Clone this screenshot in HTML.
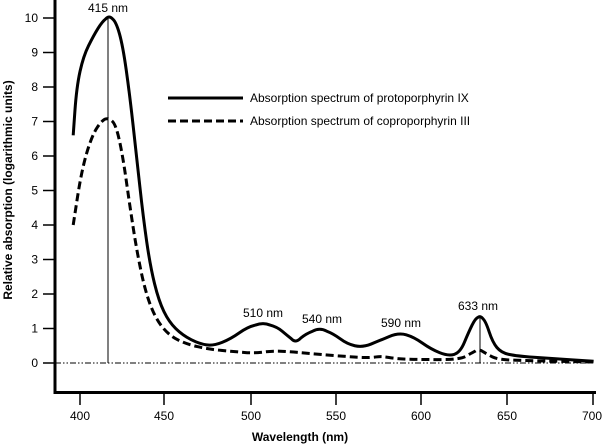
<!DOCTYPE html>
<html><head><meta charset="utf-8"><style>
html,body{margin:0;padding:0;background:#fff;}
svg{display:block;font-family:"Liberation Sans",Arial,sans-serif;}
</style></head><body>
<svg width="604" height="444" viewBox="0 0 604 444">
<g stroke="#000" fill="none">
<line x1="55" y1="0" x2="55" y2="394" stroke-width="3"/>
<line x1="54" y1="392.5" x2="596" y2="392.5" stroke-width="3"/>
<g stroke-width="1.5">
<line x1="43" y1="18" x2="55" y2="18"/><line x1="43" y1="52.5" x2="55" y2="52.5"/>
<line x1="43" y1="87" x2="55" y2="87"/><line x1="43" y1="121.5" x2="55" y2="121.5"/>
<line x1="43" y1="156" x2="55" y2="156"/><line x1="43" y1="190.5" x2="55" y2="190.5"/>
<line x1="43" y1="225" x2="55" y2="225"/><line x1="43" y1="259.5" x2="55" y2="259.5"/>
<line x1="43" y1="294" x2="55" y2="294"/><line x1="43" y1="328.5" x2="55" y2="328.5"/>
<line x1="43" y1="363" x2="55" y2="363"/>
<line x1="80" y1="392" x2="80" y2="405"/><line x1="164" y1="392" x2="164" y2="405"/>
<line x1="251" y1="392" x2="251" y2="405"/><line x1="336" y1="392" x2="336" y2="405"/>
<line x1="421" y1="392" x2="421" y2="405"/><line x1="507" y1="392" x2="507" y2="405"/>
<line x1="593" y1="392" x2="593" y2="405"/>
</g>
<line x1="55" y1="363" x2="594" y2="363" stroke-width="1" stroke-dasharray="6,2,1.5,2,1.5,2"/>
<line x1="108" y1="17" x2="108" y2="363" stroke-width="1"/>
<line x1="480" y1="316" x2="480" y2="363" stroke-width="1"/>
<path stroke-width="3" stroke-linejoin="round" d="M73.2,135.3 L74.9,111.15 Q76.6,87 80,71.5 Q83.4,56 88.55,45.65 Q93.7,35.3 98,28.4 Q102.3,21.5 105.7,18.9 Q109.1,15 112.55,18.9 Q116,21.5 119.4,33.55 Q122.8,45.6 126.2,69.75 Q129.6,93.9 133.05,124.95 Q136.5,156 139.9,187 Q143.3,218 146.75,242 Q150.2,266 154.5,283.5 Q158.8,301 163.9,311.5 Q169,322 175.85,328.7 Q182.7,335.4 191.25,339.7 Q199.8,344 206.65,344.9 Q213.5,345.8 222.1,342.35 Q230.7,338.9 239.25,332.85 Q247.8,326.8 255.5,325.05 Q263.2,322.3 270.05,325.05 Q276.9,326.8 282.05,331.1 Q287.2,335.4 291.45,338.85 Q295.7,343.5 300.85,338 Q306,333.7 312.85,331.1 Q319.7,327.5 326.55,331.1 Q333.4,333.7 340.25,338.85 Q347.1,344 354.8,345.75 Q362.5,347.5 371.05,344.05 Q379.6,340.6 389.05,336.6 Q398.5,332.6 406.2,334.85 Q413.9,337.1 422.45,343.15 Q431,349.2 439.55,352.65 Q448.1,356.1 454.1,354.4 Q460.1,352.7 464.4,342.35 Q468.7,332 472.1,325.1 Q475.5,318.2 478.05,317.3 Q480.6,315.4 483.2,319 Q485.8,321.6 489.2,331.95 Q492.6,342.3 496.9,347.5 Q501.2,352.7 508.9,354.4 Q516.6,356.1 533.7,357.3 Q550.8,358.5 572.2,359.9 L593.6,361.3"/>
<path stroke-width="3" stroke-dasharray="8,4" stroke-linejoin="round" d="M73.2,225 L77.45,197.4 Q81.7,169.8 86.85,152.55 Q92,135.3 97.15,127.55 Q102.3,119.8 105.7,118.9 Q109.1,118 112.55,121.5 Q116,125 119.4,140.5 Q122.8,156 126.2,180.15 Q129.6,204.3 133.05,226.75 Q136.5,249.2 140.75,269.85 Q145,290.5 150.15,304.35 Q155.3,318.2 162.15,326.8 Q169,335.4 177.55,339.7 Q186.1,344 197.25,346.6 Q208.4,349.2 221.25,350.4 Q234.1,351.6 244.35,352.45 Q254.6,353.3 263.15,352.1 Q271.7,350.9 280.3,351.25 Q288.9,351.6 304.3,353 Q319.7,354.4 336.8,355.75 Q353.9,357.1 362.45,357.45 Q371,357.8 376.15,356.95 Q381.3,356.1 389,357.5 Q396.7,358.9 409.55,359.25 Q422.4,359.6 441.25,359.6 Q460.1,359.6 466.1,356.15 Q472.1,352.7 475.55,350.95 Q479,348.5 483.25,351.8 Q487.5,354.4 492.65,357 Q497.8,359.6 511.5,360.1 Q525.2,360.6 559.4,361.3 L593.6,362"/>
<line x1="168" y1="98" x2="243" y2="98" stroke-width="3"/>
<line x1="168" y1="121" x2="243" y2="121" stroke-width="3" stroke-dasharray="8,4"/>
</g>
<g font-size="12" fill="#000" text-anchor="end">
<text x="38" y="22">10</text><text x="38" y="56.5">9</text><text x="38" y="91">8</text>
<text x="38" y="125.5">7</text><text x="38" y="160">6</text><text x="38" y="194.5">5</text>
<text x="38" y="229">4</text><text x="38" y="263.5">3</text><text x="38" y="298">2</text>
<text x="38" y="332.5">1</text><text x="38" y="367">0</text>
</g>
<g font-size="12" fill="#000" text-anchor="middle">
<text x="80" y="420">400</text><text x="164" y="420">450</text><text x="251" y="420">500</text>
<text x="336" y="420">550</text><text x="421" y="420">600</text><text x="507" y="420">650</text>
<text x="592" y="420">700</text>
<text x="108" y="12">415 nm</text>
<text x="263" y="317">510 nm</text>
<text x="322" y="323">540 nm</text>
<text x="401" y="327">590 nm</text>
<text x="478" y="310">633 nm</text>
<text x="300" y="441" font-weight="bold">Wavelength (nm)</text>
<text transform="translate(12,190) rotate(-90)" font-weight="bold">Relative absorption (logarithmic units)</text>
</g>
<g font-size="12" fill="#000">
<text x="250" y="102">Absorption spectrum of protoporphyrin IX</text>
<text x="250" y="125">Absorption spectrum of coproporphyrin III</text>
</g>
</svg>
</body></html>
